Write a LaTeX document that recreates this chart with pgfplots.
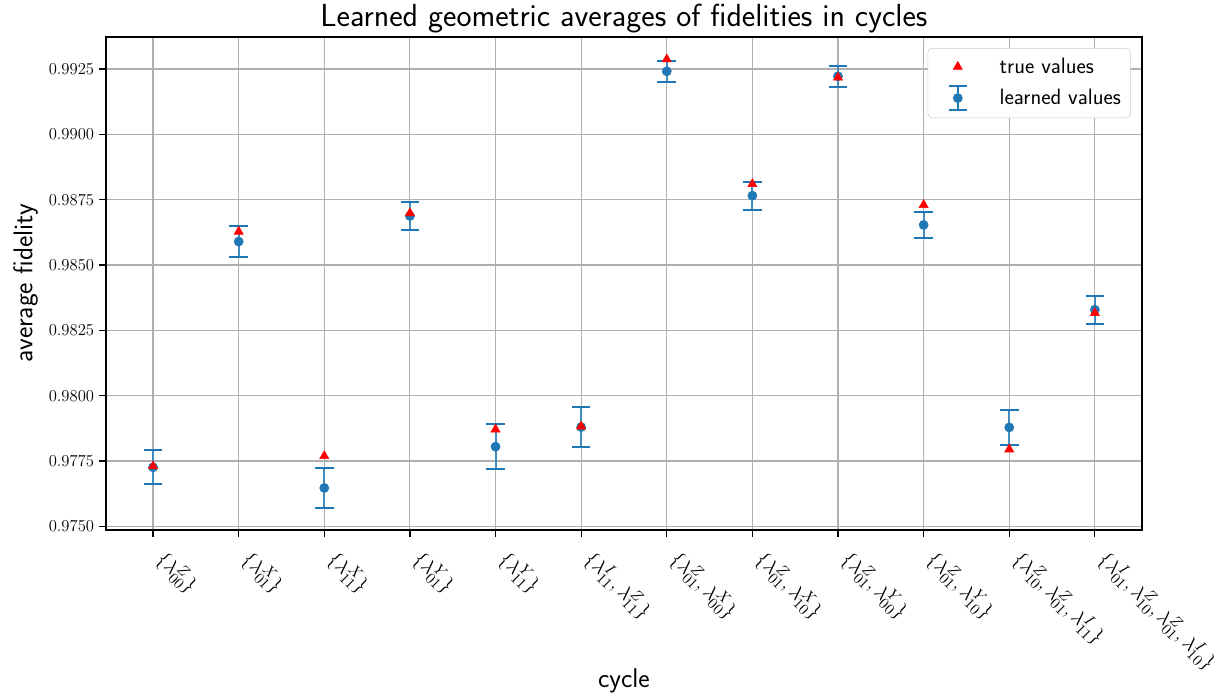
\documentclass[border=0pt]{standalone}
\usepackage{pgfplots}
\usepackage{pgfplotstable}
\pgfplotsset{compat=1.18}
\renewcommand{\familydefault}{\sfdefault}
\definecolor{C0}{HTML}{1F77B4}
\definecolor{gridgray}{HTML}{B0B0B0}

\pgfplotstableread{
x y err
0 0.977260 0.00065
1 0.985897 0.00060
2 0.976469 0.00075
3 0.986878 0.00055
4 0.978050 0.00086
5 0.978798 0.00076
6 0.992412 0.00040
7 0.987653 0.00053
8 0.992221 0.00041
9 0.986534 0.00050
10 0.978786 0.00068
11 0.983290 0.00054
}\learned

\pgfplotstableread{
x y
0 0.977298
1 0.986279
2 0.977691
3 0.986981
4 0.978710
5 0.978824
6 0.992870
7 0.988100
8 0.992172
9 0.987298
10 0.977947
11 0.983164
}\truevals

\begin{document}
\begin{tikzpicture}
\begin{axis}[
  scale only axis,
  width=746pt, height=355pt,
  xmin=-0.55, xmax=11.55,
  ymin=0.974864, ymax=0.993727,
  xtick={0,1,2,3,4,5,6,7,8,9,10,11},
  xticklabels={
    {$\{\lambda^{Z}_{00}\}$},
    {$\{\lambda^{X}_{01}\}$},
    {$\{\lambda^{X}_{11}\}$},
    {$\{\lambda^{Y}_{01}\}$},
    {$\{\lambda^{Y}_{11}\}$},
    {$\{\lambda^{I}_{11},\lambda^{Z}_{11}\}$},
    {$\{\lambda^{Z}_{01},\lambda^{X}_{00}\}$},
    {$\{\lambda^{Z}_{01},\lambda^{X}_{10}\}$},
    {$\{\lambda^{Z}_{01},\lambda^{Y}_{00}\}$},
    {$\{\lambda^{Z}_{01},\lambda^{Y}_{10}\}$},
    {$\{\lambda^{Z}_{10},\lambda^{Z}_{01},\lambda^{I}_{11}\}$},
    {$\{\lambda^{I}_{01},\lambda^{Z}_{10},\lambda^{Z}_{01},\lambda^{I}_{10}\}$}
  },
  ytick={0.975,0.9775,0.98,0.9825,0.985,0.9875,0.99,0.9925},
  yticklabels={$0.9750$,$0.9775$,$0.9800$,$0.9825$,$0.9850$,$0.9875$,$0.9900$,$0.9925$},
  yticklabel style={font=\fontsize{13}{15}\selectfont},
  xticklabel style={font=\fontsize{15}{18}\selectfont, xshift=11pt, yshift=-3pt, rotate=-45, anchor=north west},
  grid=major,
  grid style={gridgray, line width=0.8pt},
  axis line style={line width=0.9pt},
  tick style={black, line width=0.9pt},
  tick align=outside,
  xtick pos=bottom, ytick pos=left,
  major tick length=5pt,
  title={Learned geometric averages of fidelities in cycles},
  every axis title/.style={at={(axis description cs:0.5,1)}, yshift=7.2pt, anchor=base, font=\fontsize{23}{27}\selectfont},
  xlabel={cycle}, ylabel={average fidelity},
  every axis x label/.style={at={(axis description cs:0.5,0)}, yshift=-113.8pt, anchor=base, font=\fontsize{19.5}{23}\selectfont},
  every axis y label/.style={at={(axis description cs:0,0.5)}, xshift=-53pt, rotate=90, anchor=base, font=\fontsize{19.5}{23}\selectfont},
  legend style={at={(1,1)}, anchor=north east, xshift=-8pt, yshift=-8pt,
    font=\fontsize{16}{19}\selectfont, draw=gray!40, rounded corners=3pt,
    fill=white, inner sep=5pt, row sep=5pt},
  legend cell align=left,
  reverse legend,
]
\addplot[only marks, mark=*, mark size=3.3pt, C0, mark options={fill=C0, draw=C0},
  legend image code/.code={
    \path[draw=none, fill=none] (0cm,0cm) -- (1.57cm,0cm);
    \draw[C0, line width=1.4pt] (0.58cm,-0.3cm) -- (0.58cm,0.3cm);
    \draw[C0, line width=1.4pt] (0.35cm,-0.3cm) -- (0.81cm,-0.3cm);
    \draw[C0, line width=1.4pt] (0.35cm,0.3cm) -- (0.81cm,0.3cm);
    \fill[C0] (0.58cm,0cm) circle (3.3pt);
  },
  error bars/.cd, y dir=both, y explicit,
  error mark=-, error mark options={C0, line width=1.4pt, mark size=6.7pt, rotate=90},
  error bar style={C0!85!white, line width=1.4pt}]
  table[x=x, y=y, y error=err] {\learned};
\addlegendentry{learned values}
\addplot[only marks, mark=triangle*, mark size=3.8pt, red, mark options={fill=red, draw=red},
  legend image code/.code={
    \path[draw=none, fill=none] (0cm,0cm) -- (1.57cm,0cm);
    \fill[red] plot[mark=triangle*, mark size=3.8pt] coordinates {(0.58cm,0cm)};}]
  table[x=x, y=y] {\truevals};
\addlegendentry{true values}
\end{axis}
\pgfresetboundingbox
\path[use as bounding box] ([xshift=-76.3pt,yshift=-119.5pt]current axis.south west) rectangle ([xshift=56.2pt,yshift=26.6pt]current axis.north east);
\end{tikzpicture}
\end{document}
